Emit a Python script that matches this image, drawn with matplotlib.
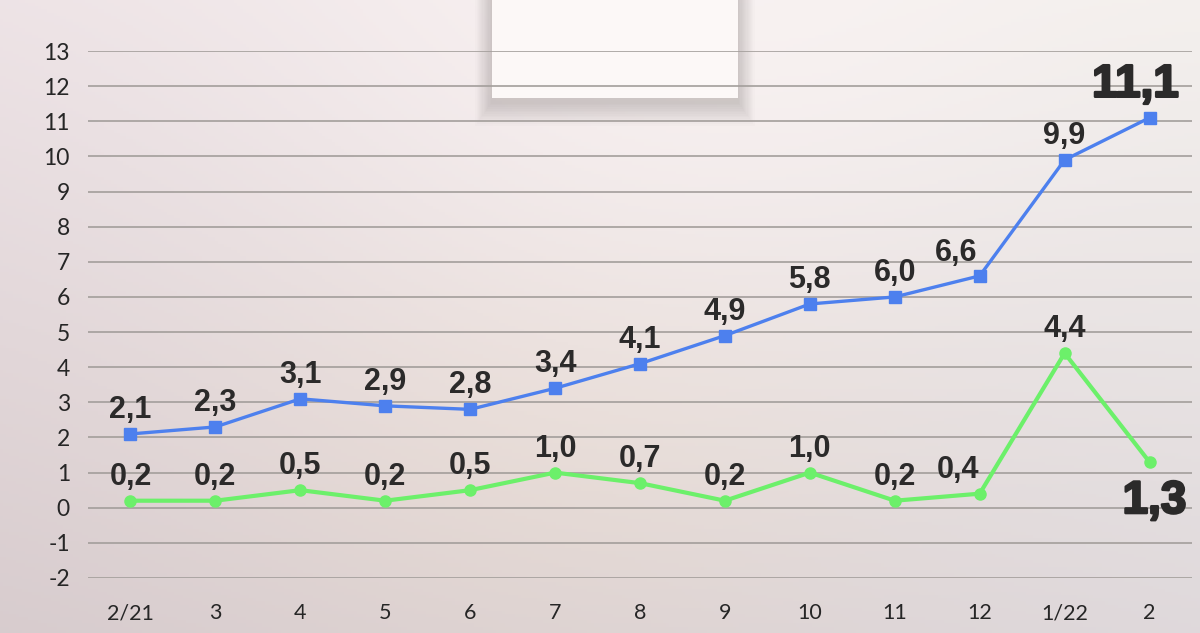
import numpy as np
import matplotlib
matplotlib.use("Agg")
import matplotlib.pyplot as plt
from matplotlib.patches import Rectangle
import matplotlib.patheffects as pe

categories = ["2/21", "3", "4", "5", "6", "7", "8", "9", "10", "11", "12", "1/22", "2"]
blue_values = [2.1, 2.3, 3.1, 2.9, 2.8, 3.4, 4.1, 4.9, 5.8, 6.0, 6.6, 9.9, 11.1]
green_values = [0.2, 0.2, 0.5, 0.2, 0.5, 1.0, 0.7, 0.2, 1.0, 0.2, 0.4, 4.4, 1.3]
y_ticks = list(range(-2, 14))

BLUE = "#4d80ee"
GREEN = "#6cf06a"
TEXT = "#2b2a2a"

fig = plt.figure(figsize=(12, 6.33), dpi=100)

# background gradient
bg = fig.add_axes([0, 0, 1, 1], zorder=-2)
H, W = 200, 380
yy, xx = np.mgrid[0:1:H * 1j, 0:1:W * 1j]
tl = np.array([0.930, 0.890, 0.900])
tr = np.array([0.950, 0.935, 0.925])
bl = np.array([0.845, 0.800, 0.810])
br = np.array([0.875, 0.850, 0.860])
img = ((1 - xx)[..., None] * (1 - yy)[..., None] * tl + xx[..., None] * (1 - yy)[..., None] * tr
       + (1 - xx)[..., None] * yy[..., None] * bl + xx[..., None] * yy[..., None] * br)
glow = np.exp(-(((xx - 0.55) / 0.35) ** 2 + ((yy - 0.15) / 0.45) ** 2))
img = img + 0.035 * glow[..., None]
mid = np.exp(-(((xx - 0.45) / 0.3) ** 2 + ((yy - 0.75) / 0.35) ** 2))
img = img + np.array([0.02, 0.01, -0.015]) * mid[..., None]
bg.imshow(np.clip(img, 0, 1), aspect="auto", extent=[0, 1, 0, 1], origin="upper")
bg.set_axis_off()

# white box with soft shadow
bx0, bw = 492 / 1200, 246 / 1200
by0 = (633 - 98) / 633
for i in range(14, 0, -1):
    d = i * 1.7
    fig.patches.append(Rectangle((bx0 - d / 1200 * 0.7, by0 - d / 633 - 4 / 633), bw + 1.4 * d / 1200, 1.2,
                                 transform=fig.transFigure, facecolor="#6a6260", alpha=0.018,
                                 edgecolor="none", zorder=-1))
fig.patches.append(Rectangle((bx0, by0), bw, 1 - by0, transform=fig.transFigure,
                             facecolor="#fcf8f7", edgecolor="none", zorder=-1))

ax = fig.add_axes([88 / 1200, 55 / 633, 1104 / 1200, 527 / 633])
ax.set_facecolor("none")
for s in ax.spines.values():
    s.set_visible(False)
x = np.arange(len(categories))
ax.set_yticks(y_ticks)
ax.set_yticklabels([str(t) for t in y_ticks])
ax.set_xticks(x)
ax.set_xticklabels(categories)
ax.tick_params(axis="both", length=0, labelcolor="#262626")
ax.tick_params(axis="y", pad=13, labelsize=16.5)
ax.tick_params(axis="x", pad=18, labelsize=15.5)
for lab in ax.get_xticklabels() + ax.get_yticklabels():
    lab.set_fontfamily(["Lato", "DejaVu Sans"])
    lab.set_fontweight("normal")
for t in y_ticks:
    ax.axhline(t, color="#a39e9b", lw=1.2, zorder=1)

ax.plot(x, blue_values, color=BLUE, lw=2.4, marker="s", ms=8.5, mec=BLUE, mfc=BLUE, zorder=4,
        solid_joinstyle="round")
ax.plot(x, green_values, color=GREEN, lw=3.0, marker="o", ms=8, mec=GREEN, mfc=GREEN, zorder=3,
        solid_joinstyle="round")
ax.set_xlim(-0.5, 12.5)
ax.set_ylim(-2, 13)


def fmt(v):
    return f"{v:.1f}".replace(".", ",")


PX = 72 / 100  # pixels -> points

# (dx, dy) pixel adjustments for labels
blue_adj = {10: (-24, 15), 12: (-14, 21)}
green_adj = {10: (-22, 16), 12: (5, -51)}


def label(v, i, adj, big):
    dx, dy = adj.get(i, (0, 16))
    t = ax.annotate(fmt(v), (x[i], v), xytext=(dx * PX, dy * PX), textcoords="offset points",
                    ha="center", va="baseline",
                    fontsize=33 if big else 22, fontweight="bold", color=TEXT,
                    family=["Liberation Sans", "DejaVu Sans"],
                    zorder=6, annotation_clip=False)
    if big:
        t.set_path_effects([pe.withStroke(linewidth=1.8, foreground=TEXT)])


for i, v in enumerate(blue_values):
    label(v, i, blue_adj, i == 12)
for i, v in enumerate(green_values):
    label(v, i, green_adj, i == 12)

fig.savefig("out.png", dpi=100)
